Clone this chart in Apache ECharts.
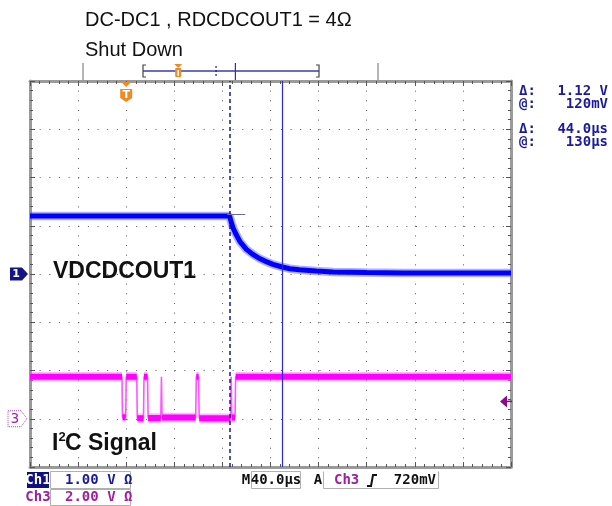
<!DOCTYPE html>
<html><head><meta charset="utf-8">
<script src="https://cdn.jsdelivr.net/npm/echarts@6/dist/echarts.min.js"></script>
<style>html,body{margin:0;padding:0;background:#fff}#c{width:612px;height:506px}</style>
</head><body><div id="c"></div>
<script>
// ---- data (time in µs relative to trigger, volts) ----
const ch1TimeUs = [-80, 86, 87.5, 89, 91, 94.6, 100, 105.7, 111, 117, 122, 129, 136, 144, 158, 172, 200, 230, 320];
const ch1Volts  = [1.20, 1.20, 1.06, 0.95, 0.84, 0.67, 0.51, 0.40, 0.32, 0.25, 0.20, 0.15, 0.11, 0.09, 0.06, 0.04, 0.03, 0.02, 0.02];
const ch3TimeUs = [-80, -3.5, -3.1, -0.4, 0, 8.8, 9.2, 14.4, 14.8, 17.8, 18.2, 28.8, 29.3, 29.8, 57.8, 58.3, 60.2, 60.7, 86.8, 87.3, 87.8, 90.5, 91.0, 320];
const ch3Volts  = [1.74, 1.74, 0.06, 0.06, 1.74, 1.74, 0.02, 0.02, 1.74, 1.74, 0.03, 0.03, 1.74, 0.05, 0.05, 1.74, 1.74, 0.02, 0.02, 1.74, 0.05, 0.05, 1.74, 1.74];
const cursorTimesUs = [86, 130];
const cursorVoltsV = [1.24, 0.12];
const triggerTimeUs = 0;
const triggerLevelV = 0.72;
const readoutLabels = ['Δ:', '@:', 'Δ:', '@:'];
const readoutValues = ['1.12 V', '120mV', '44.0µs', '130µs'];
const titleLines = ['DC-DC1 , RDCDCOUT1 = 4Ω', 'Shut Down'];
const ch1Scale = '1.00 V Ω';
const ch3Scale = '2.00 V Ω';
const timeScale = '40.0µs';
const trigLevelText = '720mV';

const pairs = (t, v) => t.map((x, i) => [x, v[i]]);
function levelSegments(t, v) {
  const out = [];
  for (let i = 0; i < t.length - 1; i++) {
    if (v[i] === v[i + 1]) { out.push([t[i], v[i]], [t[i + 1], v[i + 1]], [t[i + 1], '-']); }
  }
  return out;
}

const chart = echarts.init(document.getElementById('c'), null, {renderer: 'canvas'});
const dotted = {type: [1, 8.65], color: '#555', width: 1};
const frameLine = {show: true, onZero: false, lineStyle: {color: '#9a9a9a', width: 3}};
const tick = {show: true, inside: true, length: 5, lineStyle: {color: '#555', width: 1}};
const mtick = {show: true, splitNumber: 5, length: 3, lineStyle: {color: '#555', width: 1}};

chart.setOption({
  animation: false,
  grid: {left: 30, top: 81, width: 481, height: 386, containLabel: false},
  xAxis: [
    {type: 'value', min: -80, max: 320, interval: 40, position: 'bottom', axisLine: frameLine, axisTick: tick, minorTick: mtick, axisLabel: {show: false}, splitLine: {show: true, lineStyle: dotted}},
    {type: 'value', min: -80, max: 320, interval: 40, position: 'top', axisLine: frameLine, axisTick: tick, minorTick: mtick, axisLabel: {show: false}, splitLine: {show: false}}
  ],
  yAxis: [
    {type: 'value', min: -4, max: 4, interval: 1, position: 'left', axisLine: frameLine, axisTick: tick, minorTick: mtick, axisLabel: {show: false}, splitLine: {show: true, lineStyle: dotted}},
    {type: 'value', min: -2, max: 14, interval: 2, position: 'right', axisLine: frameLine, axisTick: tick, minorTick: mtick, axisLabel: {show: false}, splitLine: {show: false}}
  ],
  series: [
    {type: 'line', xAxisIndex: 0, yAxisIndex: 0, data: pairs(ch1TimeUs, ch1Volts), symbol: 'none', z: 3,
     lineStyle: {color: 'rgba(80,80,255,0.45)', width: 8.5}},
    {type: 'line', xAxisIndex: 0, yAxisIndex: 0, data: pairs(ch1TimeUs, ch1Volts), symbol: 'none', z: 4,
     lineStyle: {color: '#0000ff', width: 5}},
    {type: 'line', xAxisIndex: 0, yAxisIndex: 1, data: pairs(ch3TimeUs, ch3Volts), symbol: 'none', z: 3,
     lineStyle: {color: '#ff55ff', width: 1.6}},
    {type: 'line', xAxisIndex: 0, yAxisIndex: 1, data: levelSegments(ch3TimeUs, ch3Volts), symbol: 'none', z: 3, connectNulls: false,
     lineStyle: {color: 'rgba(255,90,255,0.45)', width: 9.5, cap: 'butt'}},
    {type: 'line', xAxisIndex: 0, yAxisIndex: 1, data: levelSegments(ch3TimeUs, ch3Volts), symbol: 'none', z: 4, connectNulls: false,
     lineStyle: {color: '#ff00ff', width: 6, cap: 'butt'}},
    {type: 'line', xAxisIndex: 0, yAxisIndex: 0, data: [], z: 10,
     markLine: {silent: true, symbol: 'none', label: {show: false}, animation: false,
       data: [
         {xAxis: cursorTimesUs[0], lineStyle: {color: '#1a1a90', width: 1.5, type: [4, 3]}},
         {xAxis: cursorTimesUs[1], lineStyle: {color: '#2a2ad8', width: 1.2, type: 'solid'}},
         [{coord: [cursorTimesUs[0] - 2, cursorVoltsV[0]], lineStyle: {color: '#6a6aa0', width: 1, type: 'solid'}}, {coord: [cursorTimesUs[0] + 13, cursorVoltsV[0]]}]
       ]}}
  ]
});

// ---- decorations positioned through the axes ----
const px = t => chart.convertToPixel({xAxisIndex: 0}, t);
const py1 = v => chart.convertToPixel({yAxisIndex: 0}, v);
const py3 = v => chart.convertToPixel({yAxisIndex: 1}, v);
const g = [];
const txt = (x, y, text, font, fill, align, extra) => g.push(Object.assign({type: 'text', x, y, z: 50,
  style: {text, font, fill, textAlign: align || 'left', align: align || 'left', textVerticalAlign: 'middle', verticalAlign: 'middle'}}, extra || {}));

// titles
txt(85, 20, titleLines[0], '20px "Liberation Sans", Arial, sans-serif', '#111');
txt(85, 50, titleLines[1], '20px "Liberation Sans", Arial, sans-serif', '#111');

// record bar
const barL = 143, barR = 319;
const bx = t => barL + (t + 80) / 400 * (barR - barL);
g.push({type: 'line', z: 40, shape: {x1: 83, y1: 63, x2: 83, y2: 80}, style: {stroke: '#b5b5b5', lineWidth: 2}});
g.push({type: 'line', z: 40, shape: {x1: 378, y1: 63, x2: 378, y2: 80}, style: {stroke: '#b5b5b5', lineWidth: 2}});
g.push({type: 'line', z: 40, shape: {x1: barL, y1: 71, x2: barR, y2: 71}, style: {stroke: '#3c3ca8', lineWidth: 1.5}});
g.push({type: 'polyline', z: 40, shape: {points: [[barL + 3, 65], [barL, 65], [barL, 77], [barL + 3, 77]]}, style: {stroke: '#444', lineWidth: 1.2, fill: null}});
g.push({type: 'polyline', z: 40, shape: {points: [[barR - 3, 65], [barR, 65], [barR, 77], [barR - 3, 77]]}, style: {stroke: '#444', lineWidth: 1.2, fill: null}});
g.push({type: 'line', z: 40, shape: {x1: bx(cursorTimesUs[0]), y1: 66, x2: bx(cursorTimesUs[0]), y2: 77}, style: {stroke: '#1a1a90', lineWidth: 1.2, lineDash: [2, 2]}});
g.push({type: 'line', z: 40, shape: {x1: bx(cursorTimesUs[1]), y1: 63, x2: bx(cursorTimesUs[1]), y2: 80}, style: {stroke: '#2a2ad8', lineWidth: 1.2}});
const tbx = bx(triggerTimeUs);
g.push({type: 'polygon', z: 41, shape: {points: [[tbx - 4, 64], [tbx + 4, 64], [tbx, 68]]}, style: {fill: '#f08a24'}});
g.push({type: 'rect', z: 41, shape: {x: tbx - 3, y: 68, width: 6, height: 9, r: 1}, style: {fill: '#f08a24'}});
g.push({type: 'line', z: 42, shape: {x1: tbx, y1: 70, x2: tbx, y2: 76}, style: {stroke: '#fff', lineWidth: 1.5}});

// trigger T marker on the screen
const tx = px(triggerTimeUs);
g.push({type: 'polygon', z: 41, shape: {points: [[tx - 5, 82], [tx + 5, 82], [tx, 87]]}, style: {fill: '#f08a24'}});
g.push({type: 'polygon', z: 41, shape: {points: [[tx - 6, 89], [tx + 6, 89], [tx + 6, 98], [tx, 102], [tx - 6, 98]]}, style: {fill: '#f08a24'}});
txt(tx, 95, 'T', 'bold 11px "DejaVu Sans", sans-serif', '#fff', 'center');

// channel ground markers
const g1 = py1(0), g3 = py3(0);
g.push({type: 'polygon', z: 41, shape: {points: [[10, g1 - 6.5], [22, g1 - 6.5], [28, g1], [22, g1 + 6.5], [10, g1 + 6.5]]}, style: {fill: '#141485'}});
txt(16, g1 + 0.5, '1', 'bold 11px "DejaVu Sans", sans-serif', '#fff', 'center');
g.push({type: 'polygon', z: 41, shape: {points: [[8, g3 - 8], [21, g3 - 8], [27, g3], [21, g3 + 8], [8, g3 + 8]]}, style: {fill: '#fff', stroke: '#b040b0', lineWidth: 1, lineDash: [1, 1]}});
txt(15, g3 + 0.5, '3', '14px "DejaVu Sans Mono", monospace', '#a020a0', 'center');

// trigger level marker (right edge)
const tl = py3(triggerLevelV);
g.push({type: 'polygon', z: 41, shape: {points: [[500, tl], [507, tl - 6], [507, tl + 6]]}, style: {fill: '#8a0a8a'}});
g.push({type: 'line', z: 41, shape: {x1: 506, y1: tl, x2: 512, y2: tl}, style: {stroke: '#8a0a8a', lineWidth: 1.5}});

// channel labels on the screen
txt(53, 272, 'VDCDCOUT1', 'bold 23px "Liberation Sans", Arial, sans-serif', '#111');
txt(52, 444, 'I', 'bold 23px "Liberation Sans", Arial, sans-serif', '#111');
txt(58.5, 437, '2', 'bold 13px "Liberation Sans", Arial, sans-serif', '#111');
txt(65, 444, 'C Signal', 'bold 23px "Liberation Sans", Arial, sans-serif', '#111');

// cursor readouts
const ry = [91, 104, 129, 142];
const mono = 'bold 14px "DejaVu Sans Mono", monospace';
readoutLabels.forEach((l, i) => {
  txt(519, ry[i], l, mono, '#1a1a9a');
  txt(608, ry[i], readoutValues[i], mono, '#1a1a9a', 'right');
});

// bottom readouts
g.push({type: 'rect', z: 40, shape: {x: 27, y: 472, width: 22, height: 16}, style: {fill: '#10107e'}});
txt(38, 480.5, 'Ch1', mono, '#fff', 'center');
g.push({type: 'rect', z: 40, shape: {x: 50.5, y: 471.5, width: 80, height: 17}, style: {fill: null, stroke: '#b0b0b0', lineWidth: 1}});
txt(65, 480.5, ch1Scale, mono, '#1a1a9a');
txt(38, 497.5, 'Ch3', mono, '#a020a0', 'center');
g.push({type: 'rect', z: 40, shape: {x: 50.5, y: 489.5, width: 80, height: 16}, style: {fill: null, stroke: '#b0b0b0', lineWidth: 1}});
txt(65, 497.5, ch3Scale, mono, '#a020a0');
txt(246, 480.5, 'M', mono, '#111', 'center');
g.push({type: 'rect', z: 40, shape: {x: 251.5, y: 471.5, width: 49, height: 17}, style: {fill: null, stroke: '#b0b0b0', lineWidth: 1}});
txt(276, 480.5, timeScale, mono, '#111', 'center');
txt(318, 480.5, 'A', mono, '#111', 'center');
g.push({type: 'polyline', z: 40, shape: {points: [[323.5, 471.5], [323.5, 488.5], [438.5, 488.5], [438.5, 471.5]]}, style: {fill: null, stroke: '#b0b0b0', lineWidth: 1}});
txt(334, 480.5, 'Ch3', mono, '#a020a0');
g.push({type: 'polyline', z: 41, shape: {points: [[367, 486], [371, 486], [373, 475], [377, 475]]}, style: {fill: null, stroke: '#111', lineWidth: 2}});
txt(436, 480.5, trigLevelText, mono, '#111', 'right');

chart.setOption({graphic: {elements: g}});
</script></body></html>
